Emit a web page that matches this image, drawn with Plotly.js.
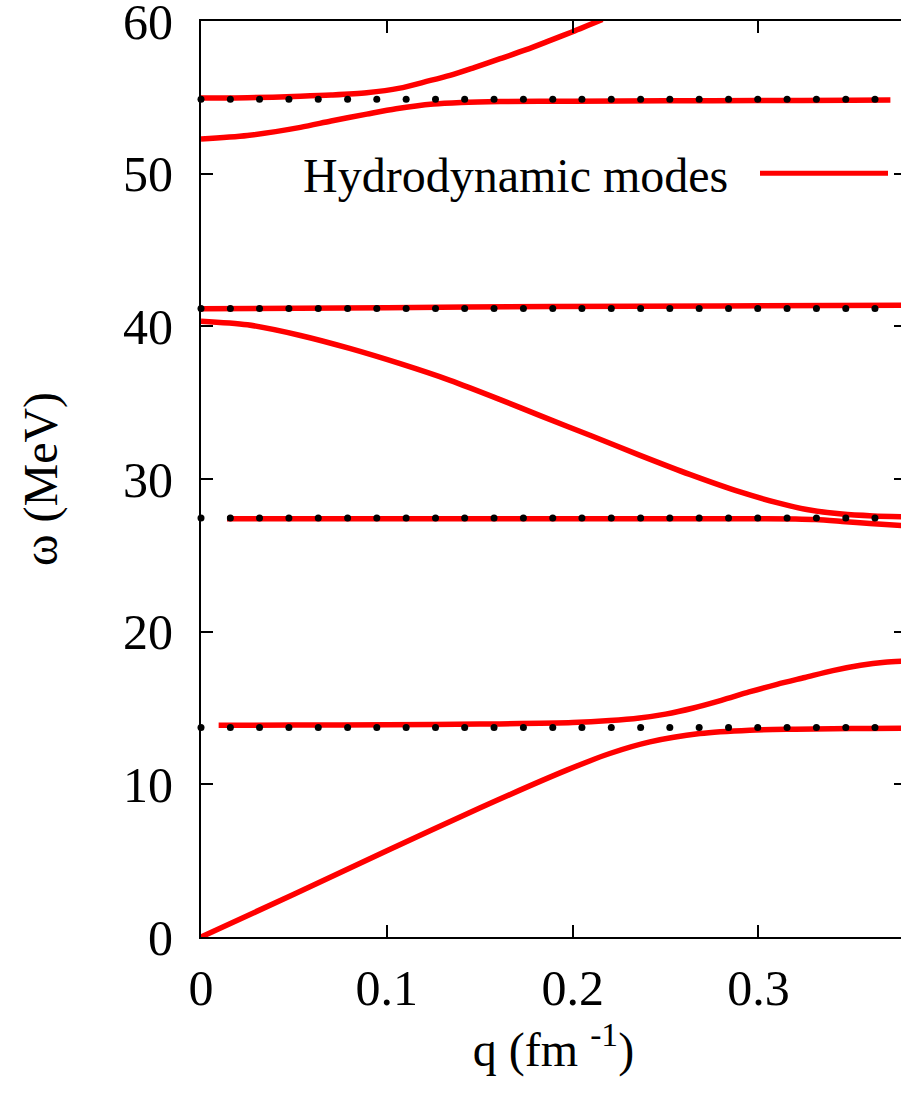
<!DOCTYPE html>
<html>
<head>
<meta charset="utf-8">
<script src="https://cdn.plot.ly/plotly-3.0.1.min.js"></script>
<style>
html,body{margin:0;padding:0;overflow:hidden;background:#fff;}
#chart{width:910px;height:1095px;}
</style>
</head>
<body>
<div id="chart"></div>
<script>
// Hydrodynamic mode branches (red curves)
const qA = [0, 0.025, 0.0535, 0.07, 0.0892, 0.107, 0.12, 0.134, 0.147, 0.161, 0.175, 0.188, 0.2, 0.216];
const wA = [54.95, 54.97, 55.07, 55.15, 55.3, 55.6, 56.0, 56.44, 56.95, 57.53, 58.12, 58.73, 59.3, 60.1];

const qB = [0, 0.025, 0.0535, 0.07, 0.0892, 0.105, 0.125, 0.14, 0.161, 0.2, 0.25, 0.3, 0.35, 0.371];
const wB = [52.27, 52.5, 53.03, 53.45, 53.9, 54.25, 54.56, 54.66, 54.72, 54.75, 54.77, 54.79, 54.81, 54.82];

const qC = [0, 0.1, 0.188, 0.28, 0.3794];
const wC = [41.15, 41.22, 41.3, 41.34, 41.38];

const qD = [0, 0.025, 0.0535, 0.08, 0.1072, 0.134, 0.161, 0.1825, 0.21, 0.2363, 0.263, 0.2901, 0.31, 0.326, 0.345, 0.3617, 0.3794];
const wD = [40.34, 40.1, 39.4, 38.55, 37.55, 36.46, 35.2, 34.15, 32.83, 31.55, 30.3, 29.15, 28.45, 28.0, 27.7, 27.58, 27.52];

const qE = [0.014, 0.1, 0.2, 0.3, 0.32, 0.331, 0.345, 0.36, 0.3794];
const wE = [27.4, 27.4, 27.4, 27.4, 27.38, 27.34, 27.22, 27.08, 26.93];

const qF = [0.0095, 0.05, 0.1, 0.15, 0.2, 0.22, 0.236, 0.25, 0.265, 0.28, 0.295, 0.31, 0.325, 0.34, 0.355, 0.368, 0.3794];
const wF = [13.87, 13.88, 13.9, 13.95, 14.05, 14.18, 14.35, 14.6, 15.0, 15.5, 16.05, 16.55, 17.0, 17.45, 17.8, 18.0, 18.08];

const qG = [0, 0.05, 0.1, 0.15, 0.1968, 0.22, 0.2416, 0.2684, 0.2953, 0.32, 0.34, 0.36, 0.3794];
const wG = [0, 2.8, 5.65, 8.45, 10.93, 12.02, 12.78, 13.33, 13.55, 13.61, 13.64, 13.66, 13.67];

// Black dotted reference levels
const qDots = [0, 0.0158, 0.0315, 0.0473, 0.0631, 0.0789, 0.0946, 0.1104, 0.1262, 0.1419, 0.1577, 0.1735,
               0.1893, 0.2050, 0.2208, 0.2366, 0.2523, 0.2681, 0.2839, 0.2996, 0.3154, 0.3312, 0.3470, 0.3627];
const dotLevels = [13.72, 27.44, 41.16, 54.88];

const xTicks = [0, 0.1, 0.2, 0.3];
const xTickText = ['0', '0.1', '0.2', '0.3'];
const yTicks = [0, 10, 20, 30, 40, 50, 60];
const legendLabel = 'Hydrodynamic modes';

const RED = '#ff0000';
const serif = "'Liberation Serif', 'Times New Roman', serif";
const FS = 48;
const TFS = 50;

const curves = [[qA, wA], [qB, wB], [qC, wC], [qD, wD], [qE, wE], [qF, wF], [qG, wG]];
const traces = curves.map(([q, w]) => ({
  x: q, y: w, type: 'scatter', mode: 'lines',
  line: {color: RED, width: 5.5, shape: 'spline', smoothing: 0.8},
  showlegend: false, hoverinfo: 'skip'
}));

dotLevels.forEach(lv => {
  traces.push({
    x: qDots, y: qDots.map(() => lv), type: 'scatter', mode: 'markers',
    marker: {color: '#000', size: 7}, showlegend: false, hoverinfo: 'skip',
    cliponaxis: false
  });
});

const axisCommon = {
  showline: true, linecolor: '#000', linewidth: 2,
  ticks: 'inside', ticklen: 12, tickwidth: 2, tickcolor: '#000',
  mirror: 'ticks', showgrid: false, zeroline: false,
  ticklabeloverflow: 'allow',
  tickfont: {family: serif, size: TFS, color: '#000'}
};

const plotW = 705;
const plotH = 916.3;
const layout = {
  width: 910, height: 1095,
  margin: {l: 201, r: 4, t: 21, b: 158},
  paper_bgcolor: '#fff', plot_bgcolor: '#fff',
  xaxis: Object.assign({}, axisCommon, {
    range: [0, 0.3794], tickvals: xTicks, ticktext: xTickText,
    ticklabelstandoff: 6,
    title: {text: 'q (fm <sup>-1</sup>)', font: {family: serif, size: FS, color: '#000'}, standoff: 12}
  }),
  yaxis: Object.assign({}, axisCommon, {
    range: [0, 60], tickvals: yTicks,
    ticklabelstandoff: 16,
    title: {text: 'ω (MeV)', font: {family: serif, size: FS, color: '#000'}, standoff: 50}
  }),
  annotations: [{
    xref: 'paper', yref: 'paper', x: (730 - 201) / plotW, y: (937 - 175) / plotH,
    xanchor: 'right', yanchor: 'middle', showarrow: false,
    text: legendLabel, font: {family: serif, size: FS, color: '#000'}
  }],
  shapes: [{
    type: 'line', xref: 'paper', yref: 'paper',
    x0: (760 - 201) / plotW, x1: (888 - 201) / plotW,
    y0: (937 - 173) / plotH, y1: (937 - 173) / plotH,
    line: {color: RED, width: 5}
  }]
};

Plotly.newPlot('chart', traces, layout, {staticPlot: true, displayModeBar: false});
</script>
</body>
</html>
